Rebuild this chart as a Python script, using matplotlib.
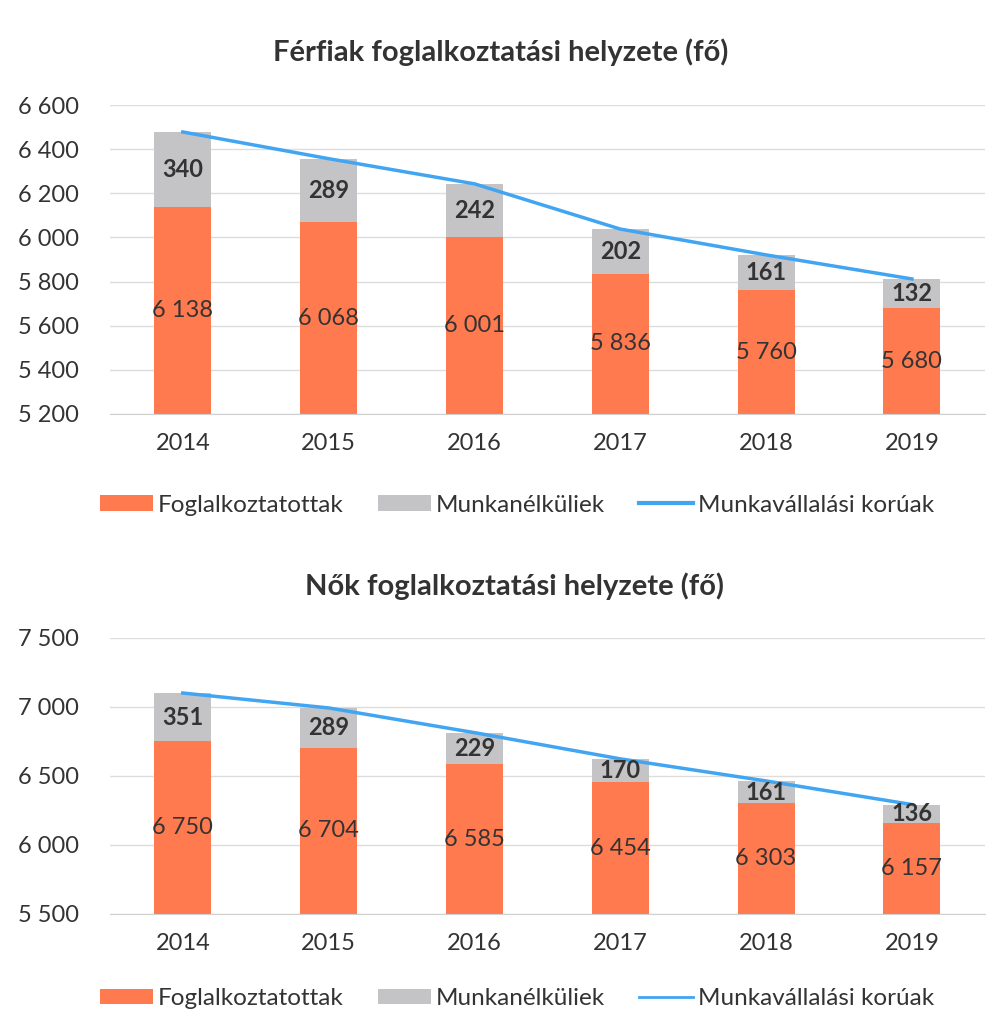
import matplotlib.pyplot as plt
import numpy as np

plt.rcParams['font.family'] = ['Lato', 'DejaVu Sans']

years = ['2014', '2015', '2016', '2017', '2018', '2019']

men_employed = [6138, 6068, 6001, 5836, 5760, 5680]
men_unemployed = [340, 289, 242, 202, 161, 132]
men_working_age = [6478, 6357, 6243, 6038, 5921, 5812]

women_employed = [6750, 6704, 6585, 6454, 6303, 6157]
women_unemployed = [351, 289, 229, 170, 161, 136]
women_working_age = [7101, 6993, 6814, 6624, 6464, 6293]

ORANGE = '#FF7A4F'
GRAY = '#C4C4C6'
BLUE = '#41A5F2'
TXT = '#333333'


def fmt(v):
    return f'{v:,}'.replace(',', ' ')


def draw_panel(ax, employed, unemployed, working_age, ymin, ymax, step, lw_legend):
    x = np.arange(len(years))
    b1 = ax.bar(x, employed, width=0.39, color=ORANGE, label='Foglalkoztatottak', zorder=2)
    b2 = ax.bar(x, unemployed, width=0.39, bottom=employed, color=GRAY, label='Munkanélküliek', zorder=2)
    ln, = ax.plot(x, working_age, color=BLUE, lw=2.5, label='Munkavállalási korúak', zorder=3)
    for i in range(len(years)):
        ax.text(x[i], (ymin + employed[i]) / 2, fmt(employed[i]), ha='center', va='center',
                fontsize=17, color=TXT, zorder=4)
        ax.text(x[i], employed[i] + unemployed[i] / 2, fmt(unemployed[i]), ha='center', va='center',
                fontsize=17, fontweight='bold', color=TXT, zorder=4)
    ax.set_xlim(-0.5, len(years) - 0.5)
    ax.set_ylim(ymin, ymax)
    ticks = np.arange(ymin, ymax + 1, step)
    ax.set_yticks(ticks)
    ax.set_yticklabels([fmt(int(t)) for t in ticks])
    ax.set_xticks(x)
    ax.set_xticklabels(years)
    ax.tick_params(axis='both', length=0, labelsize=17, colors=TXT)
    ax.tick_params(axis='x', pad=14)
    ax.tick_params(axis='y', pad=22)
    ax.grid(axis='y', color='#DDDDDD', lw=1, zorder=0)
    for s in ['top', 'right', 'left']:
        ax.spines[s].set_visible(False)
    ax.spines['bottom'].set_color('#D0D0D0')
    leg = ax.legend([b1, b2, ln], ['Foglalkoztatottak', 'Munkanélküliek', 'Munkavállalási korúak'],
                    loc='upper center', bbox_to_anchor=(0.465, -0.19), ncol=3, frameon=False,
                    fontsize=17.5, handlelength=2.2, handleheight=0.6, columnspacing=1.4, handletextpad=0.2)
    for t in leg.get_texts():
        t.set_color(TXT)
    leg.get_lines()[0].set_linewidth(lw_legend)


fig = plt.figure(figsize=(10.08, 10.36), dpi=100)
ax1 = fig.add_axes([0.109, 0.6004, 0.868, 0.2982])
ax2 = fig.add_axes([0.109, 0.1178, 0.868, 0.2664])

draw_panel(ax1, men_employed, men_unemployed, men_working_age, 5200, 6600, 200, 3)
draw_panel(ax2, women_employed, women_unemployed, women_working_age, 5500, 7500, 500, 2)

fig.text(0.497, 1 - 52 / 1036, 'Férfiak foglalkoztatási helyzete (fő)', ha='center', va='center',
         fontsize=21, fontweight='bold', color=TXT)
fig.text(0.51, 1 - 586 / 1036, 'Nők foglalkoztatási helyzete (fő)', ha='center', va='center',
         fontsize=21, fontweight='bold', color=TXT)

fig.savefig('out.png', dpi=100, facecolor='white')
